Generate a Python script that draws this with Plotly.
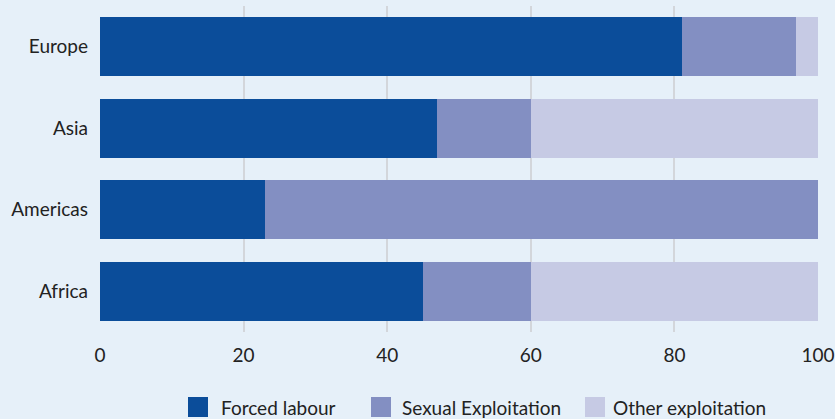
import plotly.graph_objects as go

regions = ["Africa", "Americas", "Asia", "Europe"]
forced = [45, 23, 47, 81]
sexual = [15, 77, 13, 16]
other = [40, 0, 40, 3]

colors = ["#0B4D9A", "#838FC2", "#C6CAE4"]
names = ["Forced labour", "Sexual Exploitation", "Other exploitation"]

fig = go.Figure()
for vals, name, c in zip([forced, sexual, other], names, colors):
    fig.add_trace(go.Bar(y=regions, x=vals, name=name, orientation="h", showlegend=False,
                         marker=dict(color=c, line=dict(width=0)), width=0.72))

# legend drawn as large square swatches with labels below the plot (paper pixels)
W, H = 835, 419
swatch_x = [188, 371, 585]
label_x = [219, 400, 611]
for name, c, sx, lx in zip(names, colors, swatch_x, label_x):
    fig.add_shape(type="rect", xref="paper", yref="paper",
                  x0=(sx - 100) / 718, x1=(sx + 20 - 100) / 718,
                  y0=(419 - 417 - 87) / 326, y1=(419 - 397 - 87) / 326,
                  fillcolor=c, line=dict(width=0))
    fig.add_annotation(text=name, xref="paper", yref="paper",
                       x=(lx - 100) / 718, y=(419 - 407 - 87) / 326,
                       xanchor="left", yanchor="middle", showarrow=False)

fig.update_layout(
    barmode="stack",
    width=W, height=H,
    paper_bgcolor="#E6F0F9", plot_bgcolor="#E6F0F9",
    margin=dict(l=100, r=17, t=6, b=87, autoexpand=False),
    font=dict(family="Lato, Open Sans, sans-serif", size=19, color="#222222"),
    showlegend=False,
    xaxis=dict(range=[0, 100], tickvals=[0, 20, 40, 60, 80, 100], showgrid=True,
               gridcolor="#D3D6DB", gridwidth=2, zeroline=False, showline=False,
               ticks="", automargin=False, ticklabelstandoff=10),
    yaxis=dict(range=[-0.5, 3.5], showgrid=False, zeroline=False, ticks="",
               automargin=False, ticklabelstandoff=11),
)
fig.write_html("out.html", config={"displayModeBar": False},
               post_script="document.body.style.margin='0';")
